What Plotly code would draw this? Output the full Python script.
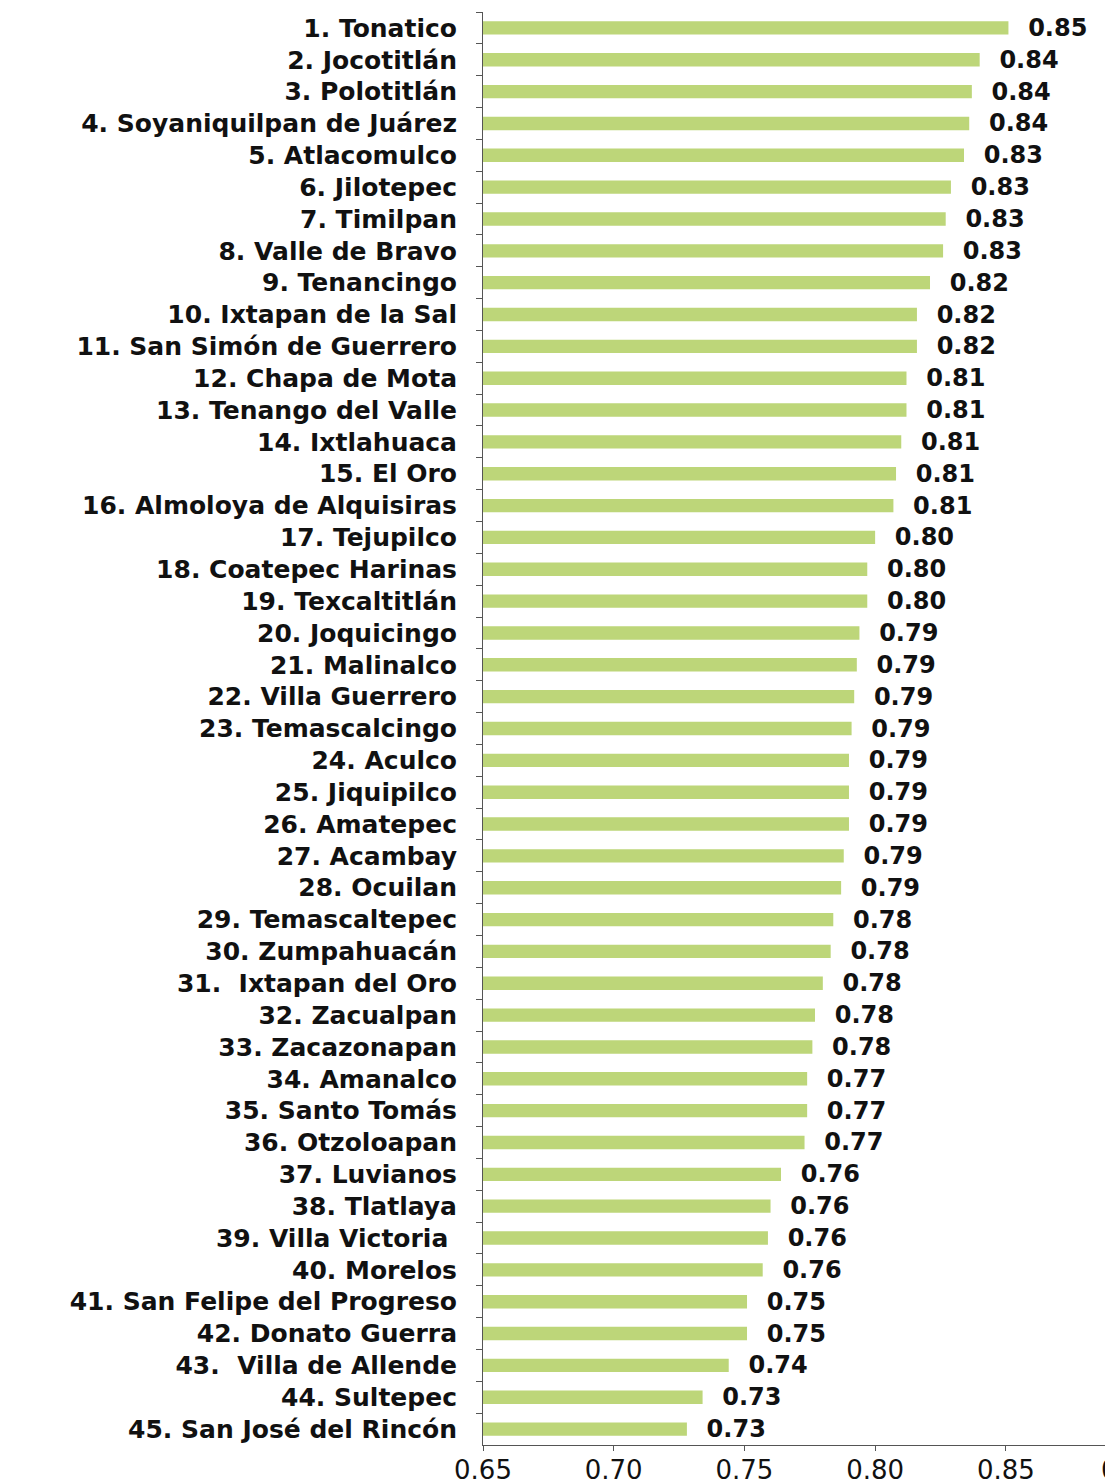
import plotly.graph_objects as go

municipios = [
    "1. Tonatico", "2. Jocotitlán", "3. Polotitlán", "4. Soyaniquilpan de Juárez",
    "5. Atlacomulco", "6. Jilotepec", "7. Timilpan", "8. Valle de Bravo",
    "9. Tenancingo", "10. Ixtapan de la Sal", "11. San Simón de Guerrero",
    "12. Chapa de Mota", "13. Tenango del Valle", "14. Ixtlahuaca", "15. El Oro",
    "16. Almoloya de Alquisiras", "17. Tejupilco", "18. Coatepec Harinas",
    "19. Texcaltitlán", "20. Joquicingo", "21. Malinalco", "22. Villa Guerrero",
    "23. Temascalcingo", "24. Aculco", "25. Jiquipilco", "26. Amatepec",
    "27. Acambay", "28. Ocuilan", "29. Temascaltepec", "30. Zumpahuacán",
    "31.  Ixtapan del Oro", "32. Zacualpan", "33. Zacazonapan", "34. Amanalco",
    "35. Santo Tomás", "36. Otzoloapan", "37. Luvianos", "38. Tlatlaya",
    "39. Villa Victoria ", "40. Morelos", "41. San Felipe del Progreso",
    "42. Donato Guerra", "43.  Villa de Allende", "44. Sultepec",
    "45. San José del Rincón",
]

indice = [
    0.851, 0.840, 0.837, 0.836, 0.834, 0.829, 0.827, 0.826, 0.821, 0.816,
    0.816, 0.812, 0.812, 0.810, 0.808, 0.807, 0.800, 0.797, 0.797, 0.794,
    0.793, 0.792, 0.791, 0.790, 0.790, 0.790, 0.788, 0.787, 0.784, 0.783,
    0.780, 0.777, 0.776, 0.774, 0.774, 0.773, 0.764, 0.760, 0.759, 0.757,
    0.751, 0.751, 0.744, 0.734, 0.728,
]

x_ticks = [0.65, 0.70, 0.75, 0.80, 0.85]
x_ticklabels = ["0.65", "0.70", "0.75", "0.80", "0.85"]

fig = go.Figure(
    go.Bar(
        x=indice,
        y=municipios,
        orientation="h",
        marker=dict(color="#bdd679", line=dict(width=0)),
        texttemplate="\u00a0\u00a0%{x:.2f}",
        textposition="outside",
        constraintext="none",
        cliponaxis=False,
        textfont=dict(family="DejaVu Sans", size=24, color="#111111", weight="bold"),
    )
)

# the page body adds an 8px margin, so the figure is sized to fill the window
fig.update_layout(
    width=1105,
    height=1476,
    margin=dict(l=475, r=0, t=4, b=39),
    paper_bgcolor="white",
    plot_bgcolor="white",
    bargap=0.58,
    showlegend=False,
    font=dict(family="DejaVu Sans", color="#111111"),
)

fig.update_xaxes(
    range=[0.65, 0.891],
    tickvals=x_ticks,
    ticktext=x_ticklabels,
    showgrid=False,
    zeroline=False,
    showline=True,
    linecolor="#555555",
    linewidth=1,
    ticks="outside",
    ticklen=5,
    tickcolor="#555555",
    ticklabelstandoff=-3,
    tickfont=dict(family="DejaVu Sans", size=26, color="#111111"),
)

fig.update_yaxes(
    autorange="reversed",
    showgrid=False,
    showline=True,
    linecolor="#555555",
    linewidth=1,
    ticks="outside",
    ticklen=6,
    tickcolor="#555555",
    tickson="boundaries",
    ticklabelstandoff=20,
    tickfont=dict(family="DejaVu Sans", size=25, color="#111111", weight="bold"),
)

fig.add_annotation(
    xref="paper", yref="paper",
    x=1.027, y=0, yshift=-25,
    text="0.90", showarrow=False,
    font=dict(family="DejaVu Sans", size=26, color="#111111"),
    xanchor="center", yanchor="middle",
)

fig.write_html("out.html")
